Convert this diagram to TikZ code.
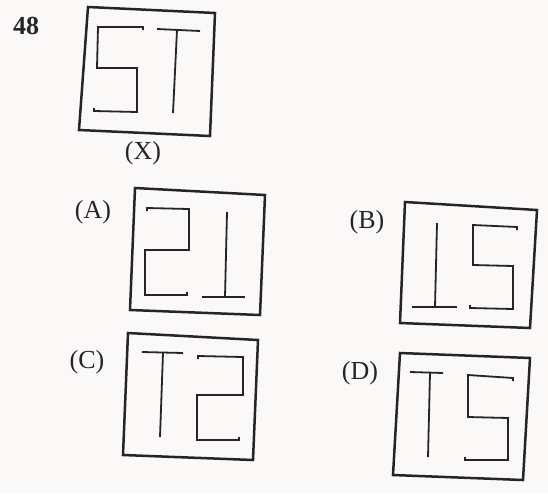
\documentclass[tikz,border=0pt]{standalone}
\usepackage{fontspec}
\setmainfont{Liberation Serif}
\usepackage{tikz}
\usetikzlibrary{positioning, calc}
\usepackage{xcolor}
\definecolor{ink}{RGB}{38,36,38}
\definecolor{paper}{RGB}{250,249,248}

\tikzset{
  frame/.style={draw=ink, line width=2.5pt, line join=miter},
  stroke/.style={draw=ink, line width=1.8pt, line join=miter},
  tag/.style={text=ink, inner sep=0pt, font=\fontsize{26}{30}\selectfont}
}

\begin{document}
\begin{tikzpicture}[x=1pt, y=-1pt]
  \fill[paper] (0,0) rectangle (548,493);
  \useasboundingbox (0,0) rectangle (548,493);
  \node[tag, font=\fontsize{26}{30}\selectfont\bfseries] (num) at (26,26) {48};
  % question figure
  \draw[frame] (88,7) -- (215,13) -- (210,136) -- (79,130) -- cycle;
  \draw[stroke] (143,30) -- (143,27) -- (98,27) -- (97,68) -- (137,68) -- (137,112) -- (94,111) -- (94,108);
  \draw[stroke] (157,29) -- (200,31);
  \draw[stroke] (177,30) -- (173,113);
  \node[tag] (lx) at (143,153) {(X)};
  % (A)
  \node[tag] (la) at (93,212) {(A)};
  \draw[frame] (135,188) -- (265,195) -- (260,315) -- (130,310) -- cycle;
  \draw[stroke] (147,211) -- (147,208) -- (189,209) -- (189,250) -- (145,250) -- (145,295) -- (187,295) -- (187,292);
  \draw[stroke] (227,212) -- (225,297);
  \draw[stroke] (202,297) -- (245,297);
  % (B)
  \node[tag] (lb) at (367,222) {(B)};
  \draw[frame] (405,202) -- (537,210) -- (530,328) -- (400,323) -- cycle;
  \draw[stroke] (437,223) -- (435,307);
  \draw[stroke] (412,307) -- (457,307);
  \draw[stroke] (517,230) -- (517,227) -- (473,225) -- (473,265) -- (513,266) -- (513,309) -- (470,308) -- (470,305);
  % (C)
  \node[tag] (lc) at (87,362) {(C)};
  \draw[frame] (128,333) -- (258,340) -- (253,460) -- (123,455) -- cycle;
  \draw[stroke] (142,352) -- (183,353);
  \draw[stroke] (163,353) -- (160,437);
  \draw[stroke] (198,359) -- (198,356) -- (243,357) -- (243,395) -- (197,395) -- (197,440) -- (239,440) -- (239,437);
  % (D)
  \node[tag] (ld) at (360,373) {(D)};
  \draw[frame] (400,353) -- (530,358) -- (523,480) -- (393,475) -- cycle;
  \draw[stroke] (410,372) -- (443,373);
  \draw[stroke] (430,373) -- (428,457);
  \draw[stroke] (513,381) -- (513,378) -- (468,375) -- (468,417) -- (508,418) -- (508,460) -- (465,460) -- (465,457);
\end{tikzpicture}
\end{document}
